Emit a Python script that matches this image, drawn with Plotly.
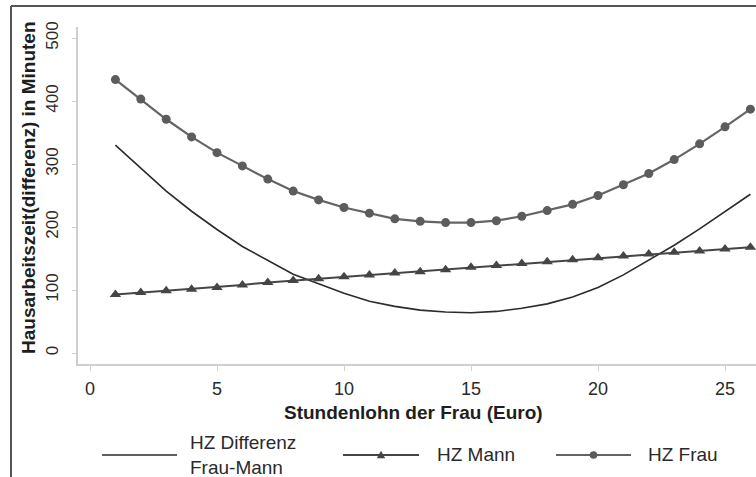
import plotly.graph_objects as go

# ---- data ----
stundenlohn = list(range(1, 27))
hz_frau = [434, 403, 371, 343, 318, 297, 276, 257, 243, 231, 222, 213, 209,
           207, 207, 210, 217, 226, 236, 250, 267, 285, 307, 332, 359, 387]
hz_mann = [93, 96, 99, 101, 104, 108, 112, 115, 118, 121, 124, 127, 129,
           132, 136, 139, 142, 145, 148, 151, 154, 157, 160, 162, 165, 168]
hz_diff = [330, 293, 257, 225, 196, 169, 147, 125, 110, 95, 82, 74, 68,
           65, 64, 66, 71, 78, 89, 104, 124, 147, 171, 197, 224, 252]
x_ticks = [0, 5, 10, 15, 20, 25]
y_ticks = [0, 100, 200, 300, 400, 500]
legend_names = ["HZ Differenz<br>Frau-Mann", "HZ Mann", "HZ Frau"]

FONT = "Liberation Sans, Arial, sans-serif"
C_DIFF, C_MANN, C_FRAU = "#2b2b2b", "#454545", "#646464"

fig = go.Figure()
fig.add_trace(go.Scatter(
    x=stundenlohn, y=hz_diff, mode="lines", name=legend_names[0],
    line=dict(color=C_DIFF, width=1.6)))
fig.add_trace(go.Scatter(
    x=stundenlohn, y=hz_mann, mode="lines+markers", name=legend_names[1],
    line=dict(color=C_MANN, width=2),
    marker=dict(symbol="triangle-up", size=10, color=C_MANN)))
fig.add_trace(go.Scatter(
    x=stundenlohn, y=hz_frau, mode="lines+markers", name=legend_names[2],
    line=dict(color=C_FRAU, width=2.2),
    marker=dict(symbol="circle", size=9, color="#5c5c5c")))

W, H = 756, 477
L, R, T, B = 78, 0, 27, 113
pw, ph = W - L - R, H - T - B

def px(xp):
    return (xp - L) / pw

def py(yp):
    return (H - B - yp) / ph

shapes = [
    dict(type="line", xref="paper", yref="paper", x0=px(11), x1=px(11),
         y0=py(6), y1=py(480), line=dict(color="#555555", width=2)),
    dict(type="line", xref="paper", yref="paper", x0=px(11), x1=px(760),
         y0=py(6), y1=py(6), line=dict(color="#555555", width=2)),
]
annotations = [
    dict(text="<b>Stundenlohn der Frau (Euro)</b>", xref="paper", yref="paper",
         x=px(413), y=py(412), xanchor="center", yanchor="middle", showarrow=False,
         font=dict(size=19, color="#1e1e1e", family=FONT)),
    dict(text="<b>Hausarbeitszeit(differenz) in Minuten</b>", xref="paper", yref="paper",
         x=px(29), y=py(188), xanchor="center", yanchor="middle", showarrow=False,
         textangle=-90, font=dict(size=19, color="#1e1e1e", family=FONT)),
]

# manual legend (line samples, markers, labels)
leg_y = 455
leg_items = [(102, 177, 188, None, C_DIFF, 1.6),
             (343, 419, 435, "tri", C_MANN, 2),
             (556, 631, 646, "circ", C_FRAU, 2.2)]
for (x0, x1, xt, mk, col, lw), name in zip(leg_items, legend_names):
    shapes.append(dict(type="line", xref="paper", yref="paper",
                       x0=px(x0), x1=px(x1), y0=py(leg_y), y1=py(leg_y),
                       line=dict(color=col, width=lw)))
    xc = (x0 + x1) / 2
    if mk == "circ":
        r = 3.8
        shapes.append(dict(type="circle", xref="paper", yref="paper",
                           x0=px(xc - r), x1=px(xc + r), y0=py(leg_y + r), y1=py(leg_y - r),
                           fillcolor="#5c5c5c", line=dict(width=0)))
    elif mk == "tri":
        s = 4.2
        path = "M {:.5f} {:.5f} L {:.5f} {:.5f} L {:.5f} {:.5f} Z".format(
            px(xc - s), py(leg_y + s * 0.75), px(xc + s), py(leg_y + s * 0.75),
            px(xc), py(leg_y - s * 1.0))
        shapes.append(dict(type="path", xref="paper", yref="paper", path=path,
                           fillcolor=col, line=dict(width=0)))
    annotations.append(dict(text=name, xref="paper", yref="paper", x=px(xt), y=py(leg_y),
                            xanchor="left", yanchor="middle", align="left", showarrow=False,
                            font=dict(size=19, color="#2a2a2a", family=FONT)))

fig.update_layout(
    width=W, height=H,
    margin=dict(l=L, r=R, t=T, b=B, autoexpand=False),
    paper_bgcolor="white", plot_bgcolor="white",
    font=dict(family=FONT, color="#222222"),
    showlegend=False,
    hovermode=False,
    xaxis=dict(range=[-12 / 25.4, -12 / 25.4 + pw / 25.4], tickvals=x_ticks,
               automargin=False, ticklabelstandoff=3,
               showgrid=False, zeroline=False, showline=True, linecolor="#cfcfcf",
               linewidth=1.5, ticks="outside", ticklen=5, tickcolor="#cfcfcf",
               tickfont=dict(size=18, color="#2a2a2a", family=FONT)),
    yaxis=dict(range=[-(364 - 353) / 0.63, 500 + (38 - 27) / 0.63], tickvals=y_ticks,
               automargin=False, ticklabelstandoff=7,
               showgrid=False, zeroline=False, showline=True, linecolor="#cfcfcf",
               linewidth=1.5, ticks="outside", ticklen=4, tickcolor="#cfcfcf",
               tickangle=-90,
               tickfont=dict(size=17, color="#2a2a2a", family=FONT)),
    annotations=annotations,
    shapes=shapes,
)

fig.write_html("out.html", config={"displayModeBar": False},
               post_script="document.body.style.margin='0';document.body.style.overflow='hidden';")
